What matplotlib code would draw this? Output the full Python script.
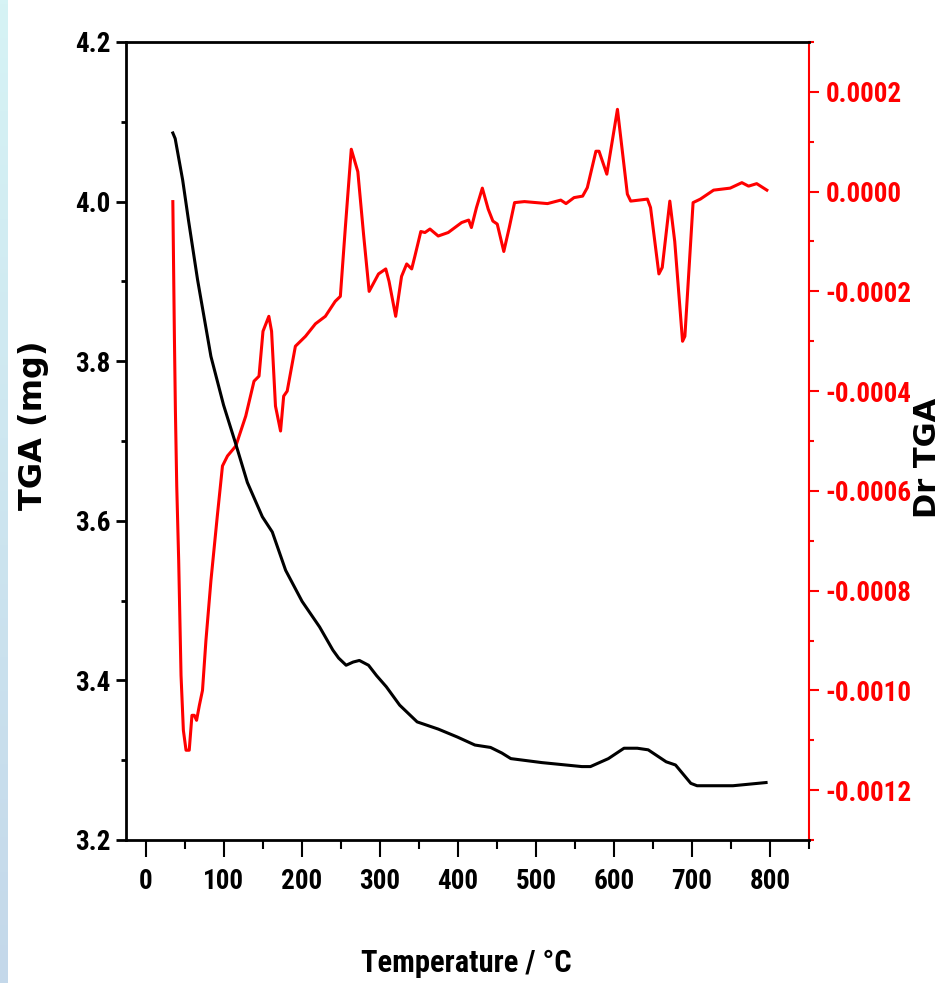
import numpy as np
import matplotlib
matplotlib.use("Agg")
import matplotlib.pyplot as plt
import matplotlib.font_manager as fm
from matplotlib.ticker import FixedLocator, MultipleLocator

## Pick a narrow bold face if one is installed, else Liberation Sans
installed = fm.fontManager.ttflist
names = {f.name for f in installed}
narrow = None
for cand in ['Liberation Sans Narrow', 'Arial Narrow', 'Roboto Condensed',
             'Open Sans Condensed', 'Noto Sans Condensed']:
    if cand in names:
        narrow = dict(family=cand, stretch='normal')
        break
if narrow is None:
    for f in installed:
        if 'condensed' in str(f.stretch) and f.name in ('DejaVu Sans', 'Noto Sans', 'Open Sans', 'Roboto'):
            narrow = dict(family=f.name, stretch=f.stretch)
            break
if narrow is None:
    narrow = dict(family='Liberation Sans', stretch='normal')
    tick_size, xlabel_size = 18, 21
else:
    tick_size, xlabel_size = 19.5, 22

plt.rcParams['font.family'] = [narrow['family'], 'DejaVu Sans']
plt.rcParams['font.stretch'] = narrow['stretch']
plt.rcParams['font.weight'] = 'heavy'
plt.rcParams['axes.unicode_minus'] = False

## TGA curve (mg) vs temperature (C)
tga_temp = [35, 38, 47.6, 55, 66.7, 83.8, 100, 115.7, 130.5, 149.7, 162.4, 179.5,
            200.6, 223, 240, 247.4, 257, 266, 274, 285.7, 296, 308.5, 325.6, 348,
            375, 399.6, 422, 442, 456.5, 468, 507.7, 559, 570, 593, 613, 630, 644,
            667, 679, 698.6, 706.6, 752.6, 795]
tga_mass = [4.086, 4.079, 4.027, 3.977, 3.902, 3.806, 3.745, 3.696, 3.648, 3.605,
            3.586, 3.538, 3.499, 3.467, 3.438, 3.428, 3.419, 3.423, 3.425, 3.419,
            3.406, 3.392, 3.369, 3.348, 3.339, 3.329, 3.319, 3.316, 3.309, 3.302,
            3.297, 3.292, 3.292, 3.302, 3.315, 3.315, 3.313, 3.298, 3.294, 3.271,
            3.268, 3.268, 3.272]

## Derivative curve (Dr TGA)
dr_temp = [35, 37, 38.3, 40, 42.5, 45.5, 48.5, 51.9, 56, 59.5, 62.5, 65.4, 69, 73,
           77.4, 83.8, 92, 98.6, 105, 115.7, 128.4, 139, 145.4, 150.5, 158, 161.5,
           166.5, 173, 177, 181.5, 192, 205, 217.7, 230.4, 243, 249.6, 256, 263.6,
           272, 279.3, 286.5, 298.5, 307.8, 312, 320.5, 328, 334.6, 341, 345, 352.7,
           358, 364.4, 375, 387.8, 405, 414, 417.5, 424, 431.5, 439, 445, 450.6, 459,
           466, 472.8, 485.5, 515, 532, 538.7, 549, 560, 566, 577, 581, 591, 604.6,
           617.3, 621.6, 643, 647, 657.7, 662, 671.7, 678, 688, 691, 701.5, 710.8,
           727.8, 749, 764, 772.6, 783, 796]
dr_val = [-0.00002, -0.00029, -0.00044, -0.00059, -0.00074, -0.00097, -0.00108,
          -0.00112, -0.00112, -0.00105, -0.00105, -0.00106, -0.00103, -0.00100,
          -0.00090, -0.00078, -0.00065, -0.00055, -0.00053, -0.00051, -0.00045,
          -0.00038, -0.00037, -0.00028, -0.00025, -0.00028, -0.00043, -0.00048,
          -0.00041, -0.00040, -0.00031, -0.00029, -0.000265, -0.00025, -0.00022,
          -0.00021, -0.000072, 0.000085, 0.00004, -0.000085, -0.00020, -0.000165,
          -0.000155, -0.00018, -0.00025, -0.00017, -0.000145, -0.000155, -0.00013,
          -0.00008, -0.000082, -0.000075, -0.000089, -0.000082, -0.000062,
          -0.000057, -0.000072, -0.000032, 0.000007, -0.000035, -0.000059,
          -0.000065, -0.00012, -0.000072, -0.000022, -0.00002, -0.000024,
          -0.000017, -0.000024, -0.000012, -0.000009, 0.000008, 0.000081, 0.000081,
          0.000035, 0.000165, -0.000005, -0.000019, -0.000015, -0.000032,
          -0.000165, -0.000152, -0.000019, -0.0001, -0.0003, -0.00029, -0.000022,
          -0.000015, 0.000003, 0.000007, 0.000018, 0.000011, 0.000016, 0.000003]

## Tick labels
x_ticks = [0, 100, 200, 300, 400, 500, 600, 700, 800]
left_ticks = [3.2, 3.4, 3.6, 3.8, 4.0, 4.2]
right_ticks = [0.0002, 0.0, -0.0002, -0.0004, -0.0006, -0.0008, -0.0010, -0.0012]
right_labels = ['0.0002', '0.0000', '-0.0002', '-0.0004', '-0.0006', '-0.0008',
                '-0.0010', '-0.0012']

W, H = 943, 983
fig = plt.figure(figsize=(W / 100, H / 100), dpi=100)

# light blue strip on the left edge
bg = fig.add_axes([0, 0, 8 / W, 1])
grad = np.linspace(0, 1, 256).reshape(-1, 1)
cmap = matplotlib.colors.LinearSegmentedColormap.from_list('strip', ['#d6f3f5', '#c4d8ea'])
bg.imshow(grad, aspect='auto', cmap=cmap)
bg.axis('off')

ax = fig.add_axes([126 / W, 1 - 840 / H, (809 - 126) / W, (840 - 42) / H])
ax2 = ax.twinx()

ax.plot(tga_temp, tga_mass, color='black', lw=2.2, zorder=3)
ax2.plot(dr_temp, dr_val, color='red', lw=2.2)
ax.set_zorder(ax2.get_zorder() + 1)
ax.patch.set_visible(False)

ax.set_xlim(-25, 850)
ax.set_ylim(3.2, 4.2)
ax2.set_ylim(-0.0013, 0.0003)

ax.xaxis.set_major_locator(FixedLocator(x_ticks))
ax.xaxis.set_minor_locator(MultipleLocator(50))
ax.yaxis.set_major_locator(FixedLocator(left_ticks))
ax.yaxis.set_minor_locator(MultipleLocator(0.1))
ax.yaxis.set_major_formatter(matplotlib.ticker.FormatStrFormatter('%.1f'))
ax2.yaxis.set_major_locator(FixedLocator(right_ticks))
ax2.set_yticklabels(right_labels)
ax2.yaxis.set_minor_locator(MultipleLocator(0.0001))

ax.tick_params(axis='x', which='major', direction='out', length=12, width=1.5,
               labelsize=tick_size, pad=8, top=False)
ax.tick_params(axis='x', which='minor', direction='out', length=6.5, width=1.5, top=False)
ax.tick_params(axis='y', which='major', direction='out', length=7, width=2,
               labelsize=tick_size, pad=4, right=False)
ax.tick_params(axis='y', which='minor', direction='out', length=3.5, width=2, right=False)
ax2.tick_params(axis='y', which='major', direction='out', length=7, width=1.5,
                color='red', labelcolor='red', labelsize=tick_size, pad=5)
ax2.tick_params(axis='y', which='minor', direction='out', length=3.5, width=1.5, color='red')

for s in ['left', 'top', 'bottom']:
    ax.spines[s].set_linewidth(2.0)
    ax.spines[s].set_color('black')
    ax2.spines[s].set_visible(False)
ax.spines['right'].set_visible(False)
ax2.spines['right'].set_color('red')
ax2.spines['right'].set_linewidth(1.5)

fig.text(34 / W, 1 - 425 / H, 'TGA (mg)', rotation=90, ha='center', va='center',
         family='DejaVu Sans', stretch='normal', weight='bold', size=23)
fig.text(927 / W, 1 - 458 / H, 'Dr TGA', rotation=90, ha='center', va='center',
         family='DejaVu Sans', stretch='normal', weight='bold', size=22)
fig.text(466 / W, 1 - 972 / H, 'Temperature / °C', ha='center', va='baseline',
         size=xlabel_size)

fig.savefig('out.png', dpi=100)
